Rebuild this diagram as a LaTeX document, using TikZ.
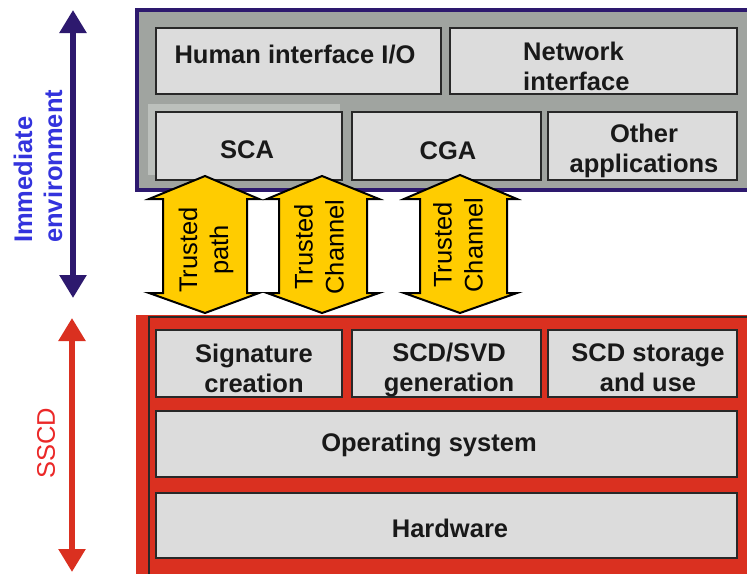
\documentclass[tikz,border=0pt]{standalone}
\usepackage{fontspec}
\setmainfont{Liberation Sans}
\usetikzlibrary{arrows.meta}
\definecolor{purp}{RGB}{45,25,110}
\definecolor{graybg}{RGB}{160,164,160}
\definecolor{graylt}{RGB}{188,192,188}
\definecolor{boxfill}{RGB}{220,220,220}
\definecolor{boxline}{RGB}{40,40,40}
\definecolor{redc}{RGB}{218,48,32}
\definecolor{yel}{RGB}{255,204,0}
\definecolor{bluetxt}{RGB}{51,51,221}
\definecolor{redtxt}{RGB}{235,40,40}
\definecolor{txt}{RGB}{25,25,25}
\begin{document}
\begin{tikzpicture}[x=1pt,y=-1pt,
  box/.style={draw=boxline, fill=boxfill, line width=2pt, inner sep=0pt},
  btext/.style={text=txt, font=\bfseries\fontsize{25.5}{30}\selectfont, align=center, inner sep=0pt},
  ttext/.style={text=black, font=\fontsize{25.5}{31}\selectfont, align=center, inner sep=0pt, rotate=90},
  tarrow/.style={draw=black, fill=yel, line width=2pt, line join=miter},
  sidearrow/.style={line width=5.5pt, arrows={Triangle[width=26pt,length=23pt]-Triangle[width=26pt,length=23pt]}}
]
\useasboundingbox (0,0) rectangle (747,573);
\fill[white] (0,0) rectangle (747,573);

% Immediate environment frame
\draw[line width=4pt, draw=purp, fill=graybg] (137,10) rectangle (752,190);
\fill[graylt] (148,104) rectangle (340,175);
\node[box, minimum width=285, minimum height=66] (hio) at (298.5,61) {};
\node[box, minimum width=287, minimum height=66] (net) at (593.5,61) {};
\node[box, minimum width=186, minimum height=68] (sca) at (249,146) {};
\node[box, minimum width=189, minimum height=68] (cga) at (446.5,146) {};
\node[box, minimum width=189, minimum height=68] (oth) at (642.5,146) {};
\node[btext] (hiot) at (295,55) {Human interface I/O};
\node[btext, align=left, anchor=west] (nett) at (523,66) {Network\\interface};
\node[btext] (scat) at (247,150) {SCA};
\node[btext] (cgat) at (448,151) {CGA};
\node[btext] (otht) at (644,151) {Other\\applications};

% SSCD frame
\fill[redc] (136,315) rectangle (752,576);
\draw[line width=2pt, draw=boxline] (149,576) -- (149,317) -- (752,317);
\node[box, minimum width=186, minimum height=67] (sig) at (249,363.5) {};
\node[box, minimum width=189, minimum height=67] (gen) at (446.5,363.5) {};
\node[box, minimum width=189, minimum height=67] (sto) at (642.5,363.5) {};
\node[box, minimum width=581, minimum height=66] (os) at (446.5,444) {};
\node[box, minimum width=581, minimum height=65] (hw) at (446.5,525.5) {};
\node[btext] (sigt) at (254,368) {Signature\\creation};
\node[btext] (gent) at (449,370) {SCD/SVD\\generation};
\node[btext] (stot) at (648,368) {SCD storage\\and use};
\node[btext] (ost) at (429,445) {Operating system};
\node[btext] (hwt) at (450,528) {Hardware};

% Trusted arrows
\draw[tarrow] (205,176) -- (259,199) -- (247,199) -- (247,293) -- (259,293) -- (205,313)
  -- (149,293) -- (163,293) -- (163,199) -- (149,199) -- cycle;
\draw[tarrow] (322,176) -- (379,199) -- (367,199) -- (367,293) -- (379,293) -- (322,313)
  -- (267,293) -- (279,293) -- (279,199) -- (267,199) -- cycle;
\draw[tarrow] (460,175) -- (517,199) -- (507,199) -- (507,293) -- (517,293) -- (460,313)
  -- (404,293) -- (420,293) -- (420,199) -- (404,199) -- cycle;
\node[ttext] (tp) at (206,250) {Trusted\\path};
\node[ttext] (tc1) at (319,247) {Trusted\\Channel};
\node[ttext] (tc2) at (458,245) {Trusted\\Channel};

% side arrows
\coordinate (ptop) at (73,10);
\coordinate (pbot) at (73,298);
\draw[sidearrow, draw=purp, fill=purp] (ptop) -- (pbot);
\coordinate (rtop) at (72,318);
\coordinate (rbot) at (72,572);
\draw[sidearrow, draw=redc, fill=redc] (rtop) -- (rbot);
\node[rotate=90, anchor=west, align=left, inner sep=0pt, text=bluetxt,
  font=\bfseries\fontsize{25.5}{30}\selectfont] (imm) at (38,243) {Immediate\\environment};
\node[rotate=90, inner sep=0pt, text=redtxt, font=\fontsize{25.5}{30}\selectfont] (sscd) at (46,443) {SSCD};
\end{tikzpicture}
\end{document}
